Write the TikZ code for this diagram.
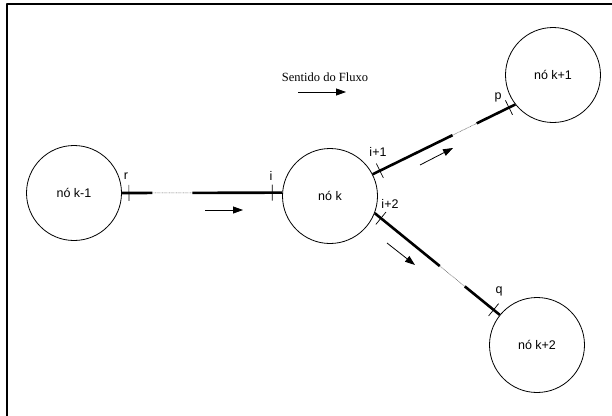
\documentclass[tikz,border=0pt]{standalone}
\usepackage{fontspec}
\setmainfont{Liberation Sans}
\newfontfamily\timesfont{Liberation Serif}
\usetikzlibrary{arrows.meta,calc}
\begin{document}
\begin{tikzpicture}[x=1pt,y=-1pt,line join=round,
    no/.style={draw,circle,line width=.8pt,minimum size=95pt,inner sep=0pt,font=\fontsize{12.5}{14}\selectfont},
    rede/.style={line width=2.6pt},
    trecho/.style={line width=.6pt,dash pattern=on .7pt off .7pt,black!60},
    marca/.style={line width=.7pt},
    fluxo/.style={line width=.8pt,-{Triangle[length=10pt,width=7pt]}},
    rot/.style={font=\fontsize{12.5}{14}\selectfont,inner sep=0pt}]
    \useasboundingbox (0,0) rectangle (612,415);
    \draw[line width=1.6pt] (7,425) |- (625,4);
    % nos
    \node[no] (km1) at (74,193) {nó k-1};
    \node[no] (k) at (330,196) {nó k};
    \node[no] (kp1) at (553,75) {nó k+1};
    \node[no] (kp2) at (537,345) {nó k+2};
    % trechos entre os nos
    \coordinate (r) at (km1.east);  \coordinate (i) at (k.176);
    \coordinate (i1) at (k.27);     \coordinate (p) at (kp1.218);
    \coordinate (i2) at (k.-21);    \coordinate (q) at (kp2.141);
    \foreach \a/\b/\f/\g in {r/i/.19/.44,i1/p/.56/.73,i2/q/.52/.72}{
        \draw[rede] (\a)--($(\a)!\f!(\b)$);
        \draw[trecho] ($(\a)!\f!(\b)$)--($(\a)!\g!(\b)$);
        \draw[rede] ($(\a)!\g!(\b)$)--(\b);
    }
    % marcas
    \foreach \a/\b/\d in {r/i/7,i/r/10,i1/p/8,p/i1/7,i2/q/8,q/i2/8}{
        \coordinate (t) at ($(\a)!\d pt!(\b)$);
        \draw[marca] ($(t)!8pt!90:(\b)$)--($(t)!8pt!-90:(\b)$);
    }
    \node[rot] (lr) at (126,176) {r};
    \node[rot] (li) at (271,176) {i};
    \node[rot] (li1) at (378,152) {i+1};
    \node[rot] (lp) at (498,97) {p};
    \node[rot] (li2) at (390,204) {i+2};
    \node[rot] (lq) at (499,291) {q};
    % sentido
    \node[font=\timesfont\fontsize{12.5}{14}\selectfont,inner sep=0pt] (sent) at (325,77) {Sentido do Fluxo};
    \coordinate (s0) at (298,92); \coordinate (s1) at (346,92);
    \coordinate (a0) at (205,210); \coordinate (a1) at (243,210);
    \coordinate (b0) at (420,165); \coordinate (b1) at (453,148);
    \coordinate (c0) at (387,243); \coordinate (c1) at (415,265);
    \draw[fluxo] (s0)--(s1);
    \draw[fluxo] (a0)--(a1);
    \draw[fluxo] (b0)--(b1);
    \draw[fluxo] (c0)--(c1);
\end{tikzpicture}
\end{document}
